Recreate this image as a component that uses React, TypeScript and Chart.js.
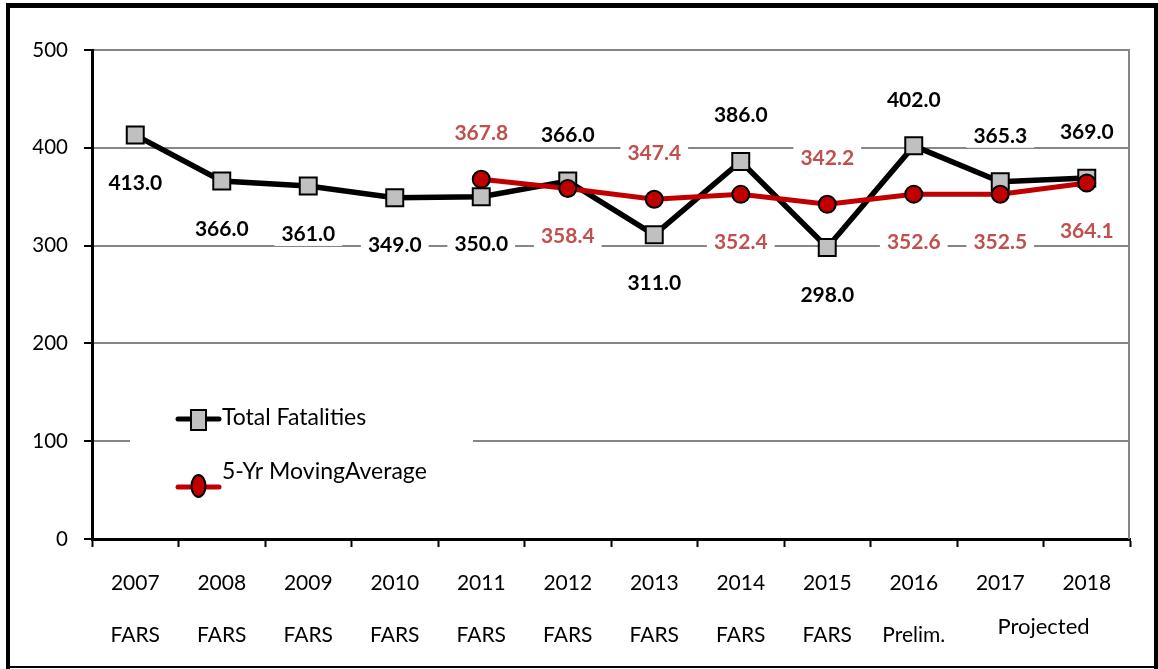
import React, { useEffect, useRef } from 'react';
import { Chart, registerables } from 'chart.js';

Chart.register(...registerables);

// ---------- data ----------
const years = ['2007', '2008', '2009', '2010', '2011', '2012', '2013', '2014', '2015', '2016', '2017', '2018'];
const sources = ['FARS', 'FARS', 'FARS', 'FARS', 'FARS', 'FARS', 'FARS', 'FARS', 'FARS', 'Prelim.', '', ''];
const projectedLabel = 'Projected';
const totalFatalities = [413.0, 366.0, 361.0, 349.0, 350.0, 366.0, 311.0, 386.0, 298.0, 402.0, 365.3, 369.0];
const movingAverage = [null, null, null, null, 367.8, 358.4, 347.4, 352.4, 342.2, 352.6, 352.5, 364.1];
const totalLabelSide = ['below', 'below', 'below', 'below', 'below', 'above', 'below', 'above', 'below', 'above', 'above', 'above'];
const avgLabelSide = ['', '', '', '', 'above', 'below', 'above', 'below', 'above', 'below', 'below', 'below'];
const yMin = 0;
const yMax = 500;
const yStep = 100;
const seriesNames = ['Total Fatalities', '5-Yr MovingAverage'];

// ---------- styles ----------
const FONT = 'Lato';
const BLACK = '#000000';
const GRAY_FILL = '#C0C0C0';
const RED = '#C00000';
const LABEL_RED = '#C0504D';
const GRID = '#868686';

const dataLabelPlugin = {
  id: 'dataLabels',
  afterDatasetsDraw(chart: any) {
    const ctx = chart.ctx;
    ctx.save();
    ctx.font = `bold 21px ${FONT}`;
    ctx.textAlign = 'center';
    ctx.textBaseline = 'middle';
    const sides = [totalLabelSide, avgLabelSide];
    const colors = [BLACK, LABEL_RED];
    chart.data.datasets.forEach((ds: any, di: number) => {
      const meta = chart.getDatasetMeta(di);
      meta.data.forEach((pt: any, i: number) => {
        const v = ds.data[i];
        if (v === null || v === undefined) return;
        const text = Number(v).toFixed(1);
        const side = sides[di][i];
        const y = pt.y + (side === 'above' ? -47 : 47);
        const w = ctx.measureText(text).width;
        ctx.fillStyle = '#FFFFFF';
        ctx.fillRect(pt.x - w / 2 - 7, y - 13, w + 14, 26);
        ctx.fillStyle = colors[di];
        ctx.fillText(text, pt.x, y + 1);
      });
    });
    ctx.restore();
  },
};

const legendPlugin = {
  id: 'insideLegend',
  afterDatasetsDraw(chart: any) {
    const ctx = chart.ctx;
    ctx.save();
    ctx.fillStyle = '#FFFFFF';
    ctx.fillRect(130, 398, 343, 104);
    // Total Fatalities
    ctx.strokeStyle = BLACK;
    ctx.lineWidth = 5;
    ctx.lineCap = 'round';
    ctx.beginPath();
    ctx.moveTo(178, 419);
    ctx.lineTo(219, 419);
    ctx.stroke();
    ctx.fillStyle = GRAY_FILL;
    ctx.lineWidth = 2;
    ctx.fillRect(191, 410, 15, 20);
    ctx.strokeRect(191, 410, 15, 20);
    ctx.fillStyle = BLACK;
    ctx.font = `23px ${FONT}`;
    ctx.textAlign = 'left';
    ctx.textBaseline = 'middle';
    ctx.fillText(seriesNames[0], 222, 418);
    // Moving average
    ctx.strokeStyle = RED;
    ctx.lineWidth = 5;
    ctx.beginPath();
    ctx.moveTo(178, 487);
    ctx.lineTo(219, 487);
    ctx.stroke();
    ctx.fillStyle = RED;
    ctx.strokeStyle = BLACK;
    ctx.lineWidth = 2;
    ctx.beginPath();
    ctx.ellipse(198.5, 486, 7, 11, 0, 0, Math.PI * 2);
    ctx.fill();
    ctx.stroke();
    ctx.fillStyle = BLACK;
    ctx.fillText(seriesNames[1], 222, 472);
    ctx.restore();
  },
};

const framePlugin = {
  id: 'frame',
  afterDraw(chart: any) {
    const ctx = chart.ctx;
    const area = chart.chartArea;
    const xs = chart.scales.x;
    ctx.save();
    // right plot border
    ctx.strokeStyle = GRID;
    ctx.lineWidth = 2;
    ctx.beginPath();
    ctx.moveTo(area.right - 1, area.top);
    ctx.lineTo(area.right - 1, area.bottom);
    ctx.stroke();
    // "Projected" spanning last two categories
    const xp = (xs.getPixelForValue(10) + xs.getPixelForValue(11)) / 2;
    ctx.fillStyle = BLACK;
    ctx.font = `22px ${FONT}`;
    ctx.textAlign = 'center';
    ctx.textBaseline = 'middle';
    ctx.fillText(projectedLabel, xp, 627);
    // outer frame
    ctx.fillStyle = BLACK;
    ctx.fillRect(6, 3, 1152, 5);
    ctx.fillRect(6, 3, 4, 666);
    ctx.fillRect(1154, 3, 4, 666);
    ctx.fillRect(6, 666, 1152, 2);
    ctx.restore();
  },
};

export default function App() {
  const canvasRef = useRef<HTMLCanvasElement | null>(null);

  useEffect(() => {
    if (!canvasRef.current) return;
    Chart.defaults.font.family = FONT;
    const chart = new Chart(canvasRef.current, {
      type: 'line',
      data: {
        labels: years.map((y, i) => [y, sources[i]]),
        datasets: [
          {
            label: seriesNames[0],
            data: totalFatalities,
            order: 2,
            borderColor: BLACK,
            borderWidth: 5.5,
            pointStyle: 'rect',
            pointRadius: 12,
            pointBackgroundColor: GRAY_FILL,
            pointBorderColor: BLACK,
            pointBorderWidth: 2,
            tension: 0,
          },
          {
            label: seriesNames[1],
            data: movingAverage,
            order: 1,
            borderColor: RED,
            borderWidth: 5,
            pointStyle: 'circle',
            pointRadius: 8.5,
            pointBackgroundColor: RED,
            pointBorderColor: BLACK,
            pointBorderWidth: 2,
            tension: 0,
          },
        ],
      },
      options: {
        animation: false,
        responsive: false,
        devicePixelRatio: 1,
        layout: { padding: { left: 12, top: 50, right: 28, bottom: 10 } },
        plugins: {
          legend: { display: false },
          tooltip: { enabled: false },
        },
        scales: {
          x: {
            offset: true,
            afterFit: (s: any) => {
              s.height = 120;
            },
            grid: {
              offset: true,
              drawOnChartArea: false,
              drawTicks: true,
              tickLength: 8,
              tickColor: BLACK,
              tickWidth: 2,
            },
            border: { display: true, color: BLACK, width: 3 },
            ticks: {
              color: BLACK,
              font: { family: FONT, size: 21, lineHeight: 52 / 21 },
              padding: 10,
              maxRotation: 0,
              autoSkip: false,
            },
          },
          y: {
            min: yMin,
            max: yMax,
            afterFit: (s: any) => {
              s.width = 80;
            },
            grid: {
              color: (c: any) => (c.tick && c.tick.value === 0 ? 'rgba(0,0,0,0)' : GRID),
              lineWidth: 2,
              drawTicks: true,
              tickLength: 8,
              tickColor: BLACK,
              tickWidth: 2,
            },
            border: { display: true, color: BLACK, width: 3 },
            ticks: {
              stepSize: yStep,
              color: BLACK,
              font: { family: FONT, size: 20.5 },
              padding: 16,
            },
          },
        },
      },
      plugins: [dataLabelPlugin, legendPlugin, framePlugin],
    });
    return () => chart.destroy();
  }, []);

  return (
    <div style={{ position: 'absolute', left: 0, top: 0, width: 1158, height: 669, background: '#fff' }}>
      <canvas ref={canvasRef} width={1158} height={669} style={{ display: 'block', width: 1158, height: 669 }} />
    </div>
  );
}
